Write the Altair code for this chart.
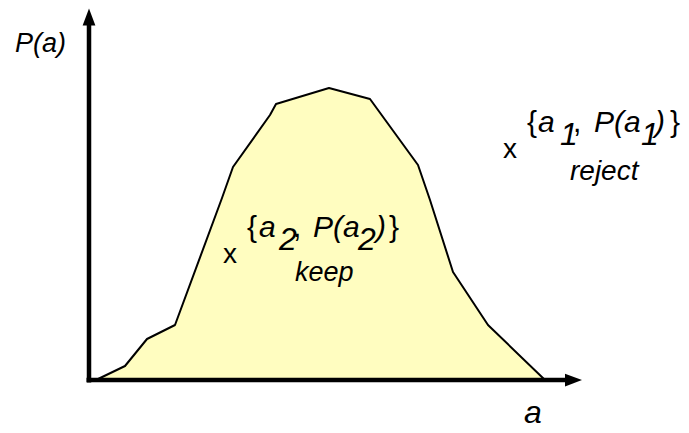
import altair as alt
import pandas as pd

# Density curve P(a) (units: a to the right, P upward; origin at the axes corner)
curve_a = [7, 36, 58, 86, 133, 144, 181, 187, 240, 281, 329, 341, 364, 399, 456]
curve_p = [0, 14, 41, 55, 182, 213, 265, 276, 292, 281, 215, 180, 108, 55, 0]

# Annotation text pieces
label_text = ["P(a)", "a",
              "x", "{", "a", "1", ",", "P(a", "1", ")", "}", "reject",
              "x", "{", "a", "2", ",", "P(a", "2", ")", "}", "keep"]
label_a = [-74, 435,
           414, 438, 449, 471, 484, 505, 552, 566, 581, 481,
           134, 158, 170, 190, 204, 224, 269, 287, 300, 206]
label_p = [328, -43,
           222, 248, 248, 235, 248, 248, 235, 248, 248, 200,
           117, 143, 143, 130, 143, 143, 130, 143, 143, 99]
label_size = [27, 32,
              28, 30, 30, 32, 30, 30, 32, 30, 30, 28,
              28, 30, 30, 32, 30, 30, 32, 30, 30, 27]
label_style = ["italic", "italic",
               "normal", "normal", "italic", "italic", "normal", "italic", "italic", "italic", "normal", "italic",
               "normal", "normal", "italic", "italic", "normal", "italic", "italic", "italic", "normal", "italic"]

curve = pd.DataFrame({"a": curve_a, "p": curve_p})
labels = pd.DataFrame({"a": label_a, "p": label_p, "t": label_text,
                       "size": label_size, "style": label_style})

xs = alt.Scale(domain=[-81, 592], nice=False, zero=False)
ys = alt.Scale(domain=[-45, 372], nice=False, zero=False)
X = lambda f: alt.X(f, type="quantitative", scale=xs, axis=None)
Y = lambda f: alt.Y(f, type="quantitative", scale=ys, axis=None)

area = alt.Chart(curve).mark_area(color="#FFFDC0").encode(x=X("a"), y=Y("p"))
line = alt.Chart(curve).mark_line(color="black", strokeWidth=2, strokeJoin="round").encode(
    x=X("a"), y=Y("p"))

yaxis = alt.Chart(pd.DataFrame({"a": [0], "p0": [-2.5], "p1": [356]})).mark_rule(
    color="black", strokeWidth=4.5).encode(x=X("a"), y=Y("p0"), y2="p1")
xaxis = alt.Chart(pd.DataFrame({"p": [0], "a0": [-2.5], "a1": [478]})).mark_rule(
    color="black", strokeWidth=4.5).encode(y=Y("p"), x=X("a0"), x2="a1")

yarrow = alt.Chart(pd.DataFrame({"a": [0], "p": [363]})).mark_point(
    shape="M0,-1L-0.75,1L0.75,1Z", filled=True, color="black", opacity=1, size=289).encode(
    x=X("a"), y=Y("p"))
xarrow = alt.Chart(pd.DataFrame({"a": [484.5], "p": [0]})).mark_point(
    shape="M1,0L-1,-0.75L-1,0.75Z", filled=True, color="black", opacity=1, size=289).encode(
    x=X("a"), y=Y("p"))

def text_layer(style):
    return alt.Chart(labels).transform_filter(alt.datum.style == style).mark_text(
        align="left", baseline="alphabetic", font="Liberation Sans", fontStyle=style,
        color="black").encode(
        x=X("a"), y=Y("p"), text="t:N", size=alt.Size("size:Q", scale=None))

chart = alt.layer(area, line, yaxis, xaxis, yarrow, xarrow,
                  text_layer("italic"), text_layer("normal")).properties(
    width=673, height=417, padding=0, autosize="none"
).configure_view(stroke=None)

chart.save("out.html", embed_options={"renderer": "svg", "actions": False})
